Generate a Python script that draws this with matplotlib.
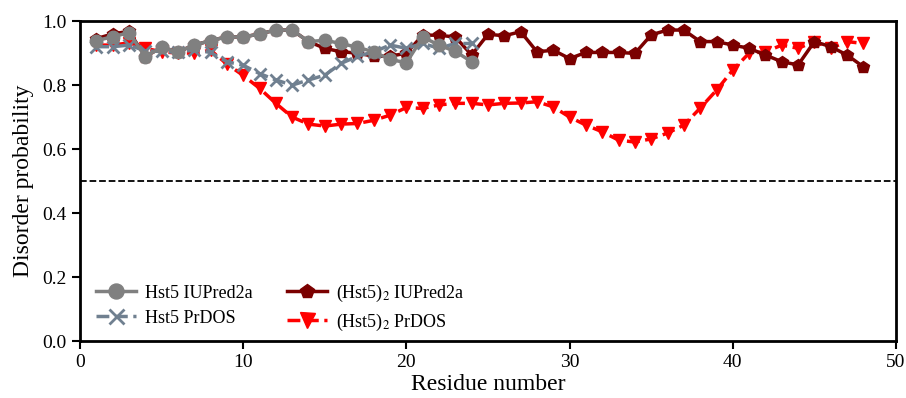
import numpy as np
import matplotlib
matplotlib.use("Agg")
import matplotlib.pyplot as plt

plt.rcParams["font.family"] = ["Liberation Serif", "DejaVu Serif"]
plt.rcParams["mathtext.fontset"] = "stix"

# Hst5 monomer (24 residues)
res_mono = list(range(1, 25))
hst5_iupred = [0.939, 0.951, 0.964, 0.889, 0.918, 0.904, 0.925, 0.939, 0.951, 0.950,
               0.960, 0.972, 0.972, 0.936, 0.940, 0.930, 0.918, 0.904, 0.880, 0.870,
               0.950, 0.925, 0.905, 0.873]
hst5_prdos = [0.920, 0.920, 0.925, 0.907, 0.905, 0.902, 0.910, 0.902, 0.873, 0.862,
              0.836, 0.816, 0.800, 0.816, 0.831, 0.868, 0.890, 0.904, 0.925, 0.915,
              0.930, 0.915, 0.930, 0.930]

# (Hst5)2 dimer (48 residues)
res_dimer = list(range(1, 49))
dimer_iupred = [0.945, 0.960, 0.968, 0.889, 0.918, 0.904, 0.925, 0.939, 0.951, 0.950,
                0.960, 0.972, 0.972, 0.936, 0.915, 0.904, 0.900, 0.890, 0.890, 0.900,
                0.956, 0.956, 0.950, 0.894, 0.959, 0.954, 0.967, 0.904, 0.909, 0.883,
                0.902, 0.902, 0.902, 0.899, 0.957, 0.972, 0.972, 0.936, 0.936, 0.925,
                0.915, 0.894, 0.873, 0.863, 0.936, 0.920, 0.894, 0.857]
dimer_prdos = [0.925, 0.925, 0.932, 0.915, 0.904, 0.900, 0.900, 0.909, 0.866, 0.830,
               0.790, 0.743, 0.700, 0.678, 0.672, 0.678, 0.680, 0.690, 0.706, 0.730,
               0.727, 0.738, 0.743, 0.743, 0.738, 0.743, 0.744, 0.748, 0.732, 0.700,
               0.675, 0.654, 0.628, 0.622, 0.632, 0.650, 0.675, 0.728, 0.784, 0.847,
               0.900, 0.904, 0.925, 0.915, 0.936, 0.915, 0.936, 0.930]

fig = plt.figure(figsize=(9.06, 3.98), dpi=100)
ax = fig.add_axes([0.0883, 0.143, 0.9007, 0.804])

l4, = ax.plot(res_dimer, dimer_prdos, color="red", linestyle="--", linewidth=2.5,
              marker="v", markersize=9, label="(Hst5)$_2$ PrDOS")
l3, = ax.plot(res_dimer, dimer_iupred, color="#7b0000", linewidth=2.5,
              marker="p", markersize=9, label="(Hst5)$_2$ IUPred2a")
l2, = ax.plot(res_mono, hst5_prdos, color="slategray", linestyle="--", linewidth=2.5,
              marker="x", markersize=9, markeredgewidth=2, label="Hst5 PrDOS")
l1, = ax.plot(res_mono, hst5_iupred, color="grey", linewidth=2.5,
              marker="o", markersize=9, label="Hst5 IUPred2a")

ax.axhline(0.5, color="black", linestyle="--", linewidth=1.3)

ax.set_xlim(0, 50)
ax.set_ylim(0, 1.0)
ax.set_xticks(np.arange(0, 51, 10))
ax.set_yticks(np.arange(0, 1.01, 0.2))
ax.set_xlabel("Residue number", fontsize=17, labelpad=2)
ax.set_ylabel("Disorder probability", fontsize=17, labelpad=6)
ax.tick_params(labelsize=14, width=1.5, length=6)
for s in ax.spines.values():
    s.set_linewidth(2)

ax.legend(handles=[l1, l2, l3, l4], ncol=2, loc="lower left", frameon=False,
          fontsize=13, bbox_to_anchor=(0.0, -0.025), handlelength=2.2,
          handletextpad=0.5, columnspacing=1.9, labelspacing=0.45,
          markerscale=1.2)

fig.savefig("out.png", dpi=100)
